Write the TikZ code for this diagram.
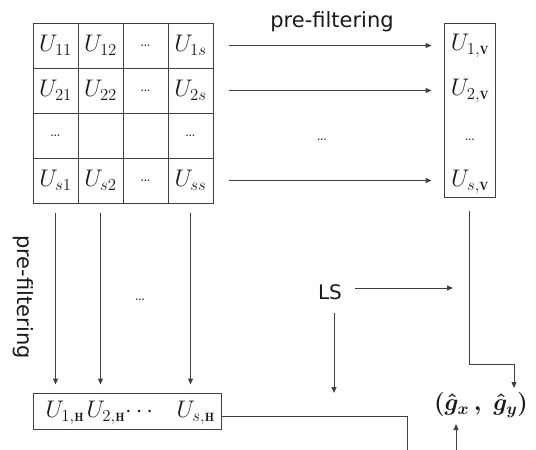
\RequirePackage{fix-cm}
\documentclass[tikz,border=0pt]{standalone}
\usepackage{fontspec}
\newfontfamily\labfont{DejaVu Sans}
\usetikzlibrary{arrows.meta}
\newcommand{\subV}{{\scriptscriptstyle\mathbf{V}}}
\newcommand{\subH}{{\scriptscriptstyle\mathbf{H}}}
\begin{document}
\begin{tikzpicture}[x=1pt,y=-1pt,line width=1pt,
  every node/.style={text=black!90},
  ln/.style={draw=black!75},
  arr/.style={ln,-{Triangle[length=6pt,width=5pt]}},
  cell/.style={draw=black!75,minimum width=45pt,minimum height=45pt,inner sep=0pt,font=\fontsize{24}{28}\selectfont},
  dcell/.style={cell,font=\fontsize{19}{22}\selectfont},
  mth/.style={inner sep=1pt,font=\fontsize{24}{28}\selectfont},
  dts/.style={inner sep=0pt,font=\fontsize{19}{22}\selectfont},
  lab/.style={inner sep=2pt,font=\labfont\fontsize{21}{25}\selectfont}]
\useasboundingbox (0,0) rectangle (536,450);
% grid
\node[cell] (c11) at (55.5,45.5) {$U_{11}$};
\node[cell] (c12) at (100.5,45.5) {$U_{12}$};
\node[dcell] (c13) at (145.5,45.5) {\ldots};
\node[cell] (c14) at (190.5,45.5) {$U_{1s}$};
\node[cell] (c21) at (55.5,90.5) {$U_{21}$};
\node[cell] (c22) at (100.5,90.5) {$U_{22}$};
\node[dcell] (c23) at (145.5,90.5) {\ldots};
\node[cell] (c24) at (190.5,90.5) {$U_{2s}$};
\node[dcell] (c31) at (55.5,135.5) {\ldots};
\node[cell] (c32) at (100.5,135.5) {};
\node[cell] (c33) at (145.5,135.5) {};
\node[dcell] (c34) at (190.5,135.5) {\ldots};
\node[cell] (c41) at (55.5,180.5) {$U_{s1}$};
\node[cell] (c42) at (100.5,180.5) {$U_{s2}$};
\node[dcell] (c43) at (145.5,180.5) {\ldots};
\node[cell] (c44) at (190.5,180.5) {$U_{ss}$};
% right box
\node[draw=black!75,minimum width=51pt,minimum height=174pt,inner sep=0pt] (rb) at (469.5,110) {};
\node[mth] (v1) at (470,46) {$U_{1,\subV}$};
\node[mth] (v2) at (470,91) {$U_{2,\subV}$};
\node[dts] (v3) at (470,140) {\ldots};
\node[mth] (v4) at (470,182) {$U_{s,\subV}$};
\node[lab] (pf1) at (332,22) {pre-filtering};
\node[dts] (d1) at (322,140) {\ldots};
\draw[arr,shorten <=15pt,shorten >=12pt] (c14) -- (c14 -| rb.west);
\draw[arr,shorten <=15pt,shorten >=12pt] (c24) -- (c24 -| rb.west);
\draw[arr,shorten <=15pt,shorten >=12pt] (c44) -- (c44 -| rb.west);
% bottom box
\node[draw=black!75,minimum width=188pt,minimum height=36pt,inner sep=0pt] (hb) at (127,411) {};
\node[mth,anchor=west] (h1) at (44,413) {$U_{1,\subH}$};
\node[mth,anchor=west] (h2) at (85,413) {$U_{2,\subH}\!\cdots$};
\node[mth,anchor=west] (hs) at (175,413) {$U_{s,\subH}$};
\node[lab,rotate=-90] (pf2) at (23,297) {pre-filtering};
\node[dts] (d2) at (140,300) {\ldots};
\draw[arr,shorten <=9pt,shorten >=8pt] (c41) -- (c41 |- hb.north);
\draw[arr,shorten <=9pt,shorten >=8pt] (c42) -- (c42 |- hb.north);
\draw[arr,shorten <=9pt,shorten >=8pt] (c44) -- (c44 |- hb.north);
% output
\node[mth,font=\boldmath\fontsize{24}{28}\selectfont] (g) at (481,405) {$(\hat{g}_x\,,\ \hat{g}_y)$};
\coordinate (k) at (514,364);
\draw[arr,shorten <=13pt] (rb.south) |- (k) -- (514,388);
% LS
\node[lab,font=\labfont\fontsize{20}{24}\selectfont] (ls) at (330,292) {LS};
\coordinate (lsr) at (453,288);
\coordinate (lsd) at (334,393);
\draw[arr,shorten <=11pt] (ls.east |- lsr) -- (lsr);
\draw[arr,shorten <=11pt] (ls.south -| lsd) -- (lsd);
% truncated connectors at the bottom edge
\coordinate (hbt) at (407,450);
\draw[ln] ([yshift=-5pt]hb.east) -| (hbt);
\coordinate (gb) at (456,450);
\draw[arr] (gb) -- (456,424);
\end{tikzpicture}
\end{document}
